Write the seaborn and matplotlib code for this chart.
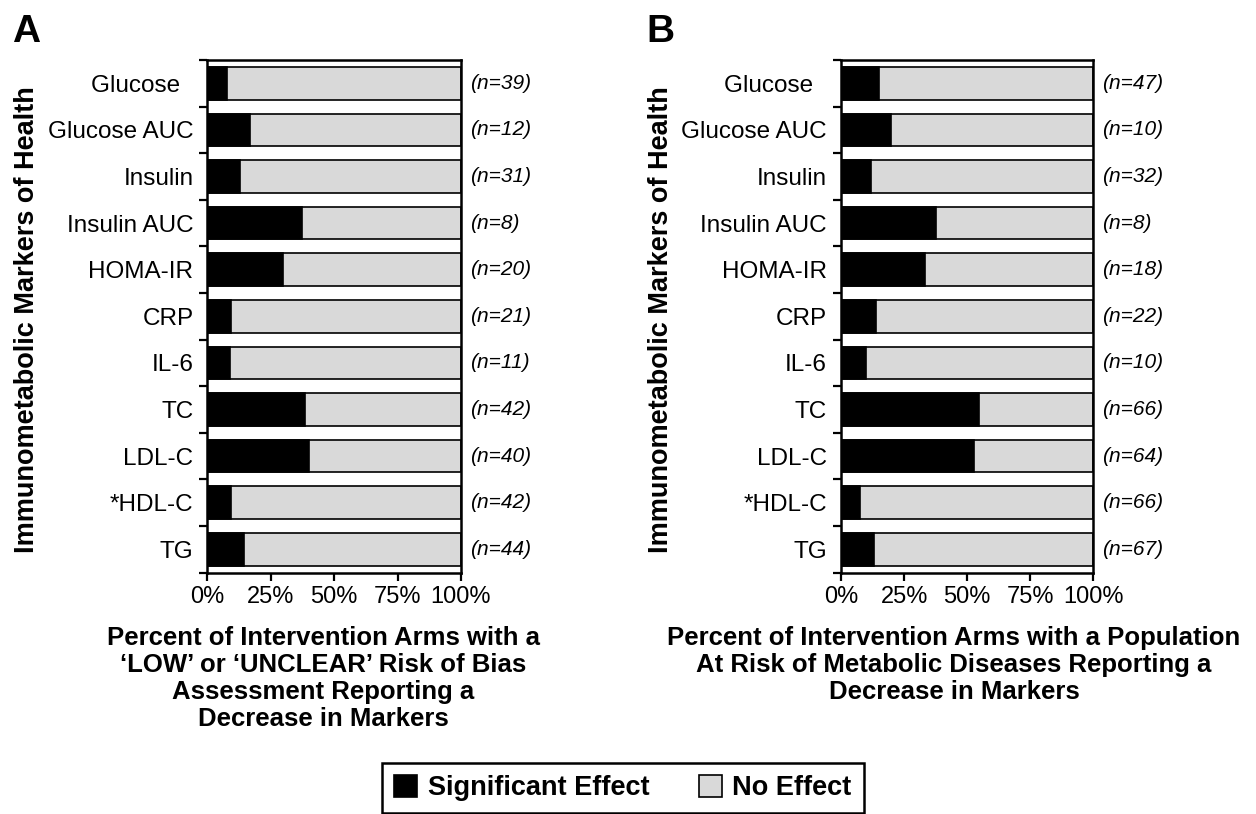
import matplotlib
matplotlib.use("Agg")
import matplotlib.pyplot as plt
from matplotlib.patches import Patch
import seaborn as sns
import pandas as pd

# ---------------- data ----------------
markers = ["Glucose  ", "Glucose AUC", "Insulin", "Insulin AUC", "HOMA-IR", "CRP",
           "IL-6", "TC", "LDL-C", "*HDL-C", "TG"]

# Panel A: % of arms (low/unclear risk of bias) with significant decrease
sig_a = [7.7, 16.7, 12.9, 37.5, 30.0, 9.5, 9.1, 38.5, 40.0, 9.5, 14.5]
n_a = [39, 12, 31, 8, 20, 21, 11, 42, 40, 42, 44]

# Panel B: % of arms (population at risk of metabolic disease) with significant decrease
sig_b = [14.9, 20.0, 12.0, 37.5, 33.3, 14.0, 10.0, 54.5, 52.8, 7.5, 13.0]
n_b = [47, 10, 32, 8, 18, 22, 10, 66, 64, 66, 67]

total = [100] * len(markers)

xticks = [0, 25, 50, 75, 100]
xtick_labels = ["0%", "25%", "50%", "75%", "100%"]

legend_labels = ["Significant Effect", "No Effect"]
ylabel_text = "Immunometabolic Markers of Health"
xlabel_a = ("Percent of Intervention Arms with a\n\u2018LOW\u2019 or \u2018UNCLEAR\u2019 Risk of Bias\n"
            "Assessment Reporting a\nDecrease in Markers")
xlabel_b = ("Percent of Intervention Arms with a Population\n"
            "At Risk of Metabolic Diseases Reporting a\nDecrease in Markers")

# ---------------- style ----------------
sns.set_theme(style="ticks")
plt.rcParams["font.family"] = ["Liberation Sans", "DejaVu Sans"]
for k in ["text.color", "axes.labelcolor", "xtick.color", "ytick.color", "axes.edgecolor"]:
    plt.rcParams[k] = "black"

GRAY = "#d9d9d9"
W, H = 1256, 814
fig = plt.figure(figsize=(W / 100, H / 100), dpi=100)


def px(x0, y0, x1, y1):
    return [x0 / W, 1 - y1 / H, (x1 - x0) / W, (y1 - y0) / H]


ax_a = fig.add_axes(px(207.3, 60, 461, 572.7))
ax_b = fig.add_axes(px(841, 60, 1093.3, 572.7))


def draw_panel(ax, sig, ns):
    df = pd.DataFrame({"marker": markers, "sig": sig, "total": total})
    sns.barplot(data=df, x="total", y="marker", orient="h", color=GRAY,
                edgecolor="black", linewidth=1.2, width=0.7, saturation=1, ax=ax)
    sns.barplot(data=df, x="sig", y="marker", orient="h", color="black",
                edgecolor="black", linewidth=1.2, width=0.7, saturation=1, ax=ax)
    ax.set_xlim(0, 100)
    ax.set_ylim(len(markers) - 0.5, -0.5)
    ax.set_xlabel("")
    ax.set_ylabel("")
    ax.set_xticks(xticks)
    ax.set_xticklabels(xtick_labels, fontsize=17, color="black")
    ax.tick_params(axis="x", length=5.5, width=1.6, pad=4, color="black", labelcolor="black")
    ax.tick_params(axis="y", which="major", length=0, pad=10, labelsize=17.5, labelcolor="black")
    ax.set_yticks([i - 0.5 for i in range(len(markers) + 1)], minor=True)
    ax.tick_params(axis="y", which="minor", length=5.5, width=1.6, color="black")
    for s in ax.spines.values():
        s.set_visible(True)
        s.set_linewidth(1.8)
        s.set_color("black")
    for i, n in enumerate(ns):
        ax.text(103.5, i, f"(n={n})", fontsize=15, fontstyle="italic",
                ha="left", va="center", color="black")


draw_panel(ax_a, sig_a, n_a)
draw_panel(ax_b, sig_b, n_b)

# panel letters
fig.text(12.5 / W, 1 - 41.7 / H, "A", fontsize=28, fontweight="bold", ha="left", va="baseline")
fig.text(646 / W, 1 - 41.7 / H, "B", fontsize=28, fontweight="bold", ha="left", va="baseline")

# y labels
fig.text(26.7 / W, 1 - 320 / H, ylabel_text, rotation=90, fontsize=19.5,
         fontweight="bold", ha="center", va="center")
fig.text(661 / W, 1 - 320 / H, ylabel_text, rotation=90, fontsize=19.5,
         fontweight="bold", ha="center", va="center")

# x labels
fig.text(323 / W, 1 - 626 / H, xlabel_a, fontsize=18.5, fontweight="bold",
         ha="center", va="top", linespacing=1.15)
fig.text(954 / W, 1 - 626 / H, xlabel_b, fontsize=18.5, fontweight="bold",
         ha="center", va="top", linespacing=1.15)

# legend
handles = [Patch(facecolor="black", edgecolor="black", linewidth=1.2),
           Patch(facecolor=GRAY, edgecolor="black", linewidth=1.2)]
leg = fig.legend(handles, legend_labels, ncol=2, loc="center",
                 bbox_to_anchor=(623 / W, 1 - 788 / H),
                 frameon=True, fancybox=False, edgecolor="black", framealpha=1,
                 prop={"size": 19.5, "weight": "bold"},
                 handlelength=0.85, handleheight=0.85, handletextpad=0.4,
                 columnspacing=1.8, borderpad=0.45)
leg.get_frame().set_linewidth(1.8)

fig.savefig("out.png", dpi=100)
